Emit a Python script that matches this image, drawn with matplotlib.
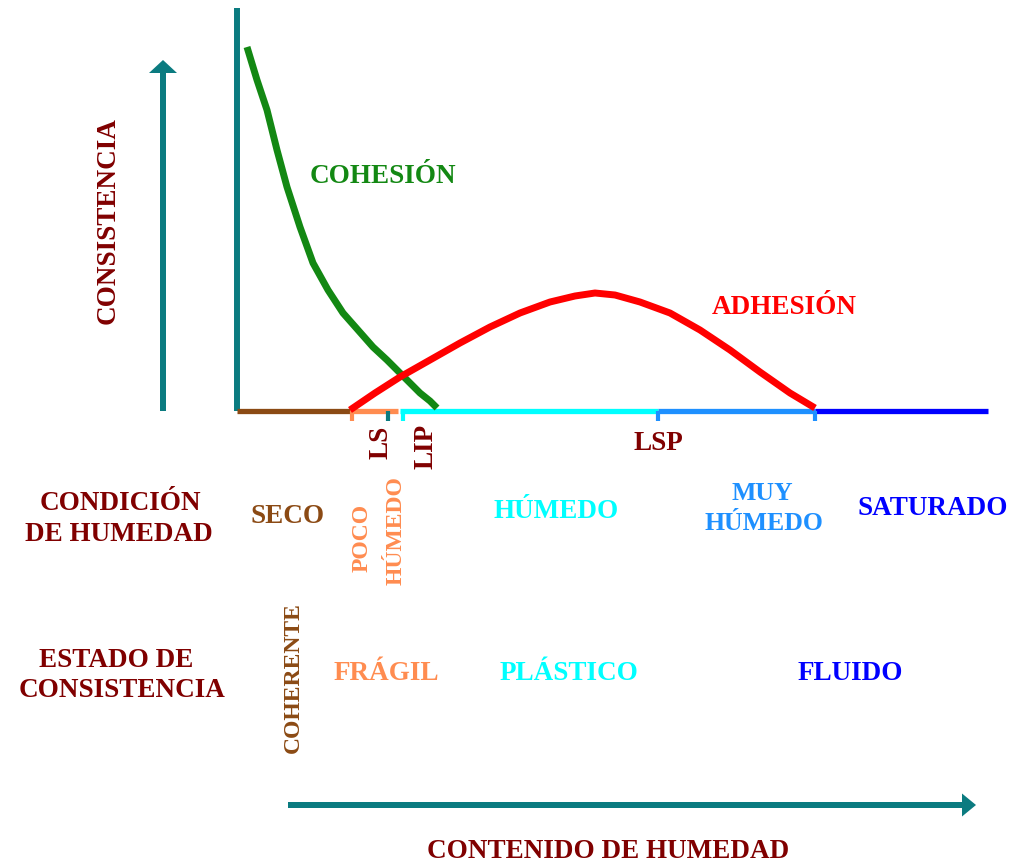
import matplotlib
matplotlib.use("Agg")
import matplotlib.pyplot as plt

# ---- data (x: moisture content, y: consistency; arbitrary units) ----
cohesion_x = [10, 20, 30, 40, 50, 63, 76, 91, 106, 121, 136, 150, 163, 173, 183, 193, 200]
cohesion_y = [364, 331, 301, 261, 224, 184, 148, 121, 98, 81, 64, 51, 38, 28, 18, 10, 3]
adhesion_x = [113, 138, 163, 193, 223, 253, 283, 313, 338, 358, 378, 403, 433, 463, 493, 523, 553, 578]
adhesion_y = [1, 18, 34, 51, 68, 84, 98, 109, 115, 118, 116, 109, 98, 81, 61, 39, 18, 3]

# moisture condition segments on the baseline
seg_starts = [0, 113, 163, 421, 578]
seg_ends = [113, 161, 421, 578, 751]
seg_colors = ["#8b4a14", "#ff8c50", "#00ffff", "#1e90ff", "#0000ff"]

limit_names = ["LS", "LIP", "LSP"]
limit_x = [151, 188, 421]

humidity_labels = ["SECO", "POCO", "HÚMEDO", "HÚMEDO", "MUY", "HÚMEDO", "SATURADO"]
state_labels = ["COHERENTE", "FRÁGIL", "PLÁSTICO", "FLUIDO"]

TEAL = "#0b7b80"
DRED = "#800000"
FONT = "Liberation Serif"
FS = 19.5

fig = plt.figure(figsize=(10.18, 8.63), dpi=100)
ax = fig.add_axes([0, 0, 1, 1])
ax.set_xlim(-237, 781)
ax.set_ylim(-452, 411)
ax.axis("off")

def txt(x, y, s, color, size=FS, rot=0, va="baseline"):
    ax.text(x, y, s, color=color, fontsize=size, fontweight="bold", family=FONT,
            rotation=rot, ha="center", va=va)

# vertical axis line
ax.plot([0, 0], [0, 403], color=TEAL, lw=4.3, solid_capstyle="butt")

# baseline segments
for s, e, c in zip(seg_starts, seg_ends, seg_colors):
    ax.plot([s, e], [0, 0], color=c, lw=3.8, solid_capstyle="butt")
# ticks
ax.plot([115, 115], [0, -10], color="#ff8c50", lw=3, solid_capstyle="butt")
ax.plot([limit_x[0], limit_x[0]], [0, -10], color=TEAL, lw=3, solid_capstyle="butt")
ax.plot([166, 166], [0, -10], color="#00ffff", lw=3, solid_capstyle="butt")
ax.plot([421, 421], [0, -10], color="#1e90ff", lw=3, solid_capstyle="butt")
ax.plot([578, 578], [0, -10], color="#1e90ff", lw=3, solid_capstyle="butt")

# curves
ax.plot(cohesion_x, cohesion_y, color="#138813", lw=5, solid_capstyle="butt")
ax.plot(adhesion_x, adhesion_y, color="#ff0000", lw=5, solid_capstyle="butt")

# arrows (filled heads)
ax.arrow(-74, 0, 0, 351, width=6, head_width=28, head_length=13,
         length_includes_head=True, color=TEAL, lw=0)
ax.arrow(51, -394, 688, 0, width=6, head_width=23, head_length=14,
         length_includes_head=True, color=TEAL, lw=0)

# curve labels
txt(-129, 190, "CONSISTENCIA", DRED, rot=90, va="center")
txt(146, 228, "COHESIÓN", "#138813")
txt(547, 97, "ADHESIÓN", "#ff0000")

# limits
txt(144, -31, limit_names[0], DRED, rot=90, va="center")
txt(189, -35, limit_names[1], DRED, rot=90, va="center")
txt(421, -39, limit_names[2], DRED)

# humidity condition
txt(-117, -99, "CONDICIÓN", DRED)
txt(-118, -130, "DE HUMEDAD", DRED)
txt(51, -112, humidity_labels[0], "#8b4a14")
txt(125, -127, humidity_labels[1], "#ff8c50", size=17, rot=90, va="center")
txt(159, -120, humidity_labels[2], "#ff8c50", size=17, rot=90, va="center")
txt(319, -107, humidity_labels[3], "#00ffff")
txt(525, -89, humidity_labels[4], "#1e90ff", size=18.5)
txt(527, -119, humidity_labels[5], "#1e90ff", size=18.5)
txt(696, -104, humidity_labels[6], "#0000ff")

# consistency state
txt(-121, -256, "ESTADO DE", DRED)
txt(-115, -286, "CONSISTENCIA", DRED)
txt(56, -267, state_labels[0], "#8b4a14", size=17, rot=90, va="center")
txt(149, -269, state_labels[1], "#ff8c50")
txt(332, -269, state_labels[2], "#00ffff")
txt(613, -269, state_labels[3], "#0000ff")

txt(371, -447, "CONTENIDO DE HUMEDAD", DRED)

fig.savefig("out.png", dpi=100)
